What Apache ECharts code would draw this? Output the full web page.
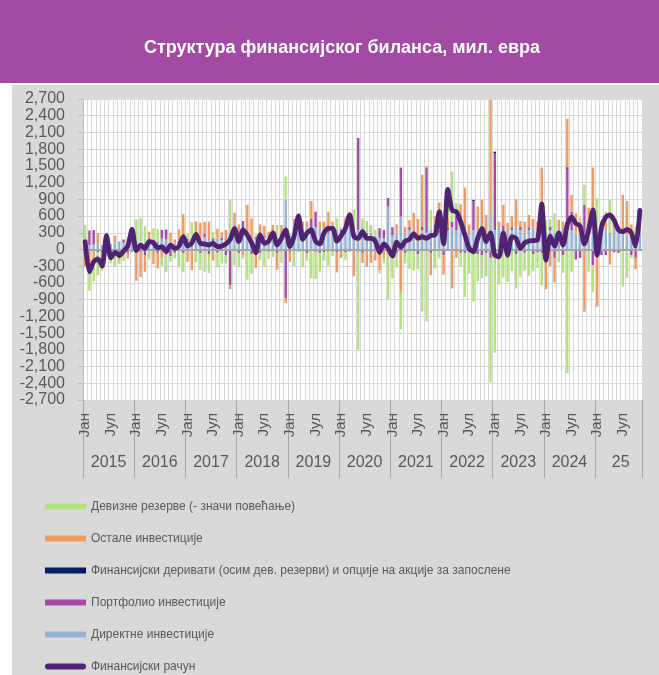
<!DOCTYPE html>
<html>
<head>
<meta charset="utf-8">
<script src="https://cdn.jsdelivr.net/npm/echarts@6/dist/echarts.min.js"></script>
<style>
  html, body { margin: 0; padding: 0; background: #fff; }
  #wrap { position: relative; width: 659px; height: 675px; background: #fff; }
  #banner { position: absolute; left: 0; top: 0; width: 659px; height: 83px; background: #A24AA4; }
  #panel { position: absolute; left: 12px; top: 85px; width: 647px; height: 590px; background: #D9D9D9; }
  #chart { position: absolute; left: 0; top: 0; width: 659px; height: 675px; }
</style>
</head>
<body>
<div id="wrap">
  <div id="banner"></div>
  <div id="panel"></div>
  <div id="chart"></div>
</div>
<script>
// ознаке
const yearLabels = ['2015', '2016', '2017', '2018', '2019', '2020', '2021', '2022', '2023', '2024', '25'];
const halfYearLabels = ['Јан', 'Јул'];

// месечни подаци, мил. евра (јан 2015 - нов 2025)
const directInv = [
  100, 80, 90, 100, 80, 120, 100, 130, 150, 120, 130, 200,
  150, 120, 130, 160, 100, 150, 200, 180, 150, 100, 120, 160,
  150, 130, 200, 180, 220, 170, 150, 200, 170, 150, 200, 250,
  200, 250, 280, 200, 180, 250, 220, 200, 280, 200, 250, 890,
  250, 300, 350, 300, 400, 350, 400, 350, 300, 300, 350, 350,
  300, 350, 450, 300, 350, 400, 250, 300, 250, 200, 200, 770,
  250, 300, 590, 300, 350, 300, 250, 350, 300, 350, 400, 300,
  300, 350, 400, 350, 600, 300, 250, 350, 350, 400, 300, 600,
  350, 400, 350, 300, 350, 400, 350, 300, 350, 400, 300, 300,
  300, 350, 300, 250, 350, 350, 350, 300, 300, 300, 350, 350,
  300, 300, 350, 300, 350, 300, 300, 250, 300, 200, 400
];
const portfolioInv = [
  0, 260, 260, -50, -60, 30, -60, -80, -120, 60, -60, -40,
  -50, -40, -100, 40, 80, -60, 150, 180, -120, -60, 40, -60,
  40, 60, 100, -60, 60, -80, 50, -60, 40, -100, -640, 160,
  -60, 260, 50, -80, 40, -60, 30, -40, 50, -60, 40, -870,
  -40, 50, 100, 60, -60, 200, 280, -60, -50, 60, -40, -50,
  60, -50, 40, 0, 1650, -60, 50, -40, -30, 180, 150, 140,
  150, -60, 880, -60, 50, 40, -80, 60, 1150, -60, 50, 40,
  -100, 50, 100, 260, -60, -60, -50, 520, -80, -100, -60, -150,
  1380, -60, 80, -150, 50, -80, 60, -60, 50, -80, -50, -60,
  -100, 60, -150, 80, -100, 1100, 330, -180, -150, 500, 100, -280,
  0, -100, -100, 0, -50, -60, -20, 0, -100, -150, 50
];
const derivatives = [
  0, 0, 0, 0, 0, 0, 0, 0, 0, 0, 0, 0,
  0, 0, 0, 0, 0, 0, 0, 0, 0, 0, 0, 0,
  0, 0, 0, 0, 0, 0, 0, 0, 0, 0, 0, 0,
  0, 0, 0, 0, 0, 0, 0, 0, 0, 0, 0, 0,
  0, 0, 0, 0, 0, 0, 0, 0, 0, 0, 0, 0,
  0, 20, 0, 0, 0, 0, 0, 0, 0, 0, 0, 10,
  0, 0, 0, 0, 0, 0, 0, 0, 10, 0, 0, 0,
  0, 0, 0, 0, 10, 0, 0, 20, 0, 0, 0, 0,
  25, 0, 0, 0, -15, 0, 0, 0, 0, 0, 0, 20,
  0, 0, 0, 0, 0, 25, 0, 0, 0, 0, 0, 0,
  0, 0, 0, 0, 0, 0, 0, 0, 0, 0, 0
];
const otherInv = [
  -300, -300, -250, 190, -120, 150, -100, 120, -80, -60, -100, 180,
  -510, -450, -300, 120, -260, -280, -150, -100, 150, 80, 200, 470,
  -220, -370, 200, 300, 220, 330, -200, 170, 100, 200, -70, 250,
  250, -100, 470, 360, -330, 200, 170, 120, 110, -300, 150, -90,
  -180, 200, 200, 140, 100, 320, -60, 150, 200, 310, 150, -360,
  -150, 200, 180, -480, -60, -180, -310, -200, -170, -370, -150, -40,
  -60, 150, -760, 100, 130, 320, 300, 930, 40, -400, 150, 500,
  -350, 180, -700, -150, 200, 810, 200, -50, 420, 490, 320, 2080,
  -50, 100, 370, 180, 200, 500, 100, 200, 220, 150, 200, 1150,
  -615, -300, -440, 200, 150, 870, 300, 350, 200, -1115, 300, 1120,
  -1025, 200, 150, -270, 200, 110, 680, 620, 150, -200, 100
];
const reserves = [
  340, -440, -320, -410, -200, -50, -90, -220, -60, -150, 90, 20,
  390, 450, 290, -180, 200, 220, -150, -300, -100, -100, -300, -340,
  90, 300, -230, -310, -400, -340, 110, -260, -250, -150, 690, -280,
  -250, -60, -540, -360, 50, -130, -310, -130, -140, 240, -240, 420,
  20, -300, -50, -320, -140, -520, -470, -340, -150, -290, -80, 210,
  40, -140, -50, 410, -1740, 160, 210, 140, 100, -60, -100, -850,
  -460, -260, -670, -190, -350, -380, -270, -1110, -1290, 360, -340, -160,
  250, 500, 900, 220, -240, -790, -380, -880, -490, -410, -420, -2230,
  -1800, -570, -500, -430, -370, -620, -490, -320, -470, -310, -280, -590,
  225, 130, 350, -230, -320, -2220, -400, 0, 70, 360, -400, -480,
  620, 0, 180, 590, 20, 0, -640, -510, -50, 210, 150
];
const finAccount = [
  140, -400, -220, -170, -300, 250, -150, -50, -110, -30, 60, 360,
  -20, 80, 20, 140, 120, 30, 50, -40, 80, 20, 60, 230,
  60, 120, 270, 110, 100, 80, 110, 50, 60, 100, 180, 380,
  140, 350, 260, 120, -60, 260, 110, 150, 300, 80, 200, 350,
  50, 250, 600, 180, 300, 350, 150, 100, 300, 380, 380, 150,
  250, 380, 620, 230, 200, 320, 200, 200, 150, -50, 100, 20,
  -120, 130, 40, 150, 180, 280, 200, 230, 200, 250, 260, 680,
  100, 1080, 700, 680, 500, 260, 20, -40, 200, 380, 140, 300,
  -100, -130, 300, -100, 230, 200, 20, 120, 150, 160, 170, 820,
  -190, 240, 60, 300, 80, 450, 580, 470, 420, 100, 350, 710,
  -100, 400, 580, 620, 520, 350, 320, 360, 300, 60, 700
];

const names = {
  reserves: 'Девизне резерве (- значи повећање)',
  other: 'Остале инвестиције',
  deriv: 'Финансијски деривати (осим дев. резерви) и опције на акције за запослене',
  portfolio: 'Портфолио инвестиције',
  direct: 'Директне инвестиције',
  total: 'Финансијски рачун'
};

const categories = directInv.map((v, i) => yearLabels[Math.floor(i / 12)] + '-' + (i % 12 + 1));

const chart = echarts.init(document.getElementById('chart'));

function barSeries(name, data, color) {
  return {
    name: name,
    type: 'bar',
    stack: 'fin',
    barWidth: 2.4,
    data: data,
    itemStyle: { color: color }
  };
}

const series = [
  barSeries(names.direct, directInv, '#95B3D7'),
  barSeries(names.portfolio, portfolioInv, '#A64CA8'),
  barSeries(names.deriv, derivatives, '#002060'),
  barSeries(names.other, otherInv, '#F39A5E'),
  barSeries(names.reserves, reserves, '#B2E47C'),
  {
    name: names.total,
    type: 'line',
    data: finAccount,
    symbol: 'none',
    smooth: 0.25,
    z: 5,
    itemStyle: { color: '#4F2272' },
    lineStyle: { color: '#4F2272', width: 4.8, cap: 'round', join: 'round' }
  }
];
// нулта линија
series[0].markLine = {
  silent: true,
  symbol: ['none', 'none'],
  label: { show: false },
  lineStyle: { color: '#A6A6A6', width: 2, type: 'solid' },
  data: [{ yAxis: 0 }]
};

const option = {
  animation: false,
  graphic: [
    {
      type: 'text',
      x: 342,
      y: 48,
      style: {
        text: 'Структура финансијског биланса, мил. евра',
        fill: '#ffffff',
        font: 'bold 18px "Liberation Sans", Arial, sans-serif',
        align: 'center',
        verticalAlign: 'middle'
      }
    }
  ],
  grid: {
    left: 83,
    right: 17,
    top: 99,
    bottom: 275,
    show: true,
    backgroundColor: '#ffffff',
    borderWidth: 0
  },
  legend: {
    orient: 'vertical',
    left: 45,
    top: 499,
    padding: 0,
    itemWidth: 41,
    itemHeight: 6,
    itemGap: 17,
    textStyle: {
      color: '#595959',
      fontSize: 12,
      lineHeight: 15,
      fontFamily: '"Liberation Sans Narrow", "Liberation Sans", Arial, sans-serif'
    },
    data: [
      { name: names.reserves, icon: 'rect' },
      { name: names.other, icon: 'rect' },
      { name: names.deriv, icon: 'rect' },
      { name: names.portfolio, icon: 'rect' },
      { name: names.direct, icon: 'rect' },
      { name: names.total, icon: 'path://M3,0H38A3,3,0,0,1,38,6H3A3,3,0,0,1,3,0Z' }
    ]
  },
  xAxis: [
    {
      type: 'category',
      data: categories,
      position: 'bottom',
      axisLine: { show: false, onZero: false },
      axisTick: {
        show: true,
        interval: (i) => i % 12 === 0,
        length: 78,
        lineStyle: { color: '#A6A6A6', width: 1 }
      },
      axisLabel: {
        interval: (i) => i % 6 === 0,
        rotate: 90,
        margin: 13,
        fontSize: 15,
        color: '#595959',
        fontFamily: '"Liberation Sans", Arial, sans-serif',
        formatter: (v, i) => halfYearLabels[(i % 12) / 6]
      },
      splitLine: { show: true, interval: 0, lineStyle: { color: '#D9D9D9', width: 1 } }
    },
    {
      type: 'category',
      data: categories,
      position: 'bottom',
      axisLine: { show: false, onZero: false },
      axisTick: { show: false },
      splitLine: { show: false },
      axisLabel: {
        interval: (i) => i % 12 === 6,
        margin: 55,
        fontSize: 16,
        color: '#595959',
        fontFamily: '"Liberation Sans", Arial, sans-serif',
        padding: [0, 4.3, 0, 0],
        formatter: (v, i) => yearLabels[Math.floor(i / 12)]
      }
    }
  ],
  yAxis: {
    type: 'value',
    min: -2700,
    max: 2700,
    interval: 300,
    axisLine: { show: true, lineStyle: { color: '#BFBFBF' } },
    axisTick: { show: true, length: 5, lineStyle: { color: '#BFBFBF' } },
    axisLabel: {
      margin: 18,
      fontSize: 16,
      color: '#595959',
      fontFamily: '"Liberation Sans", Arial, sans-serif',
      formatter: (v) => v.toLocaleString('en-US')
    },
    splitLine: { lineStyle: { color: '#D9D9D9', width: 1 } }
  },
  series: series
};

chart.setOption(option);
</script>
</body>
</html>
